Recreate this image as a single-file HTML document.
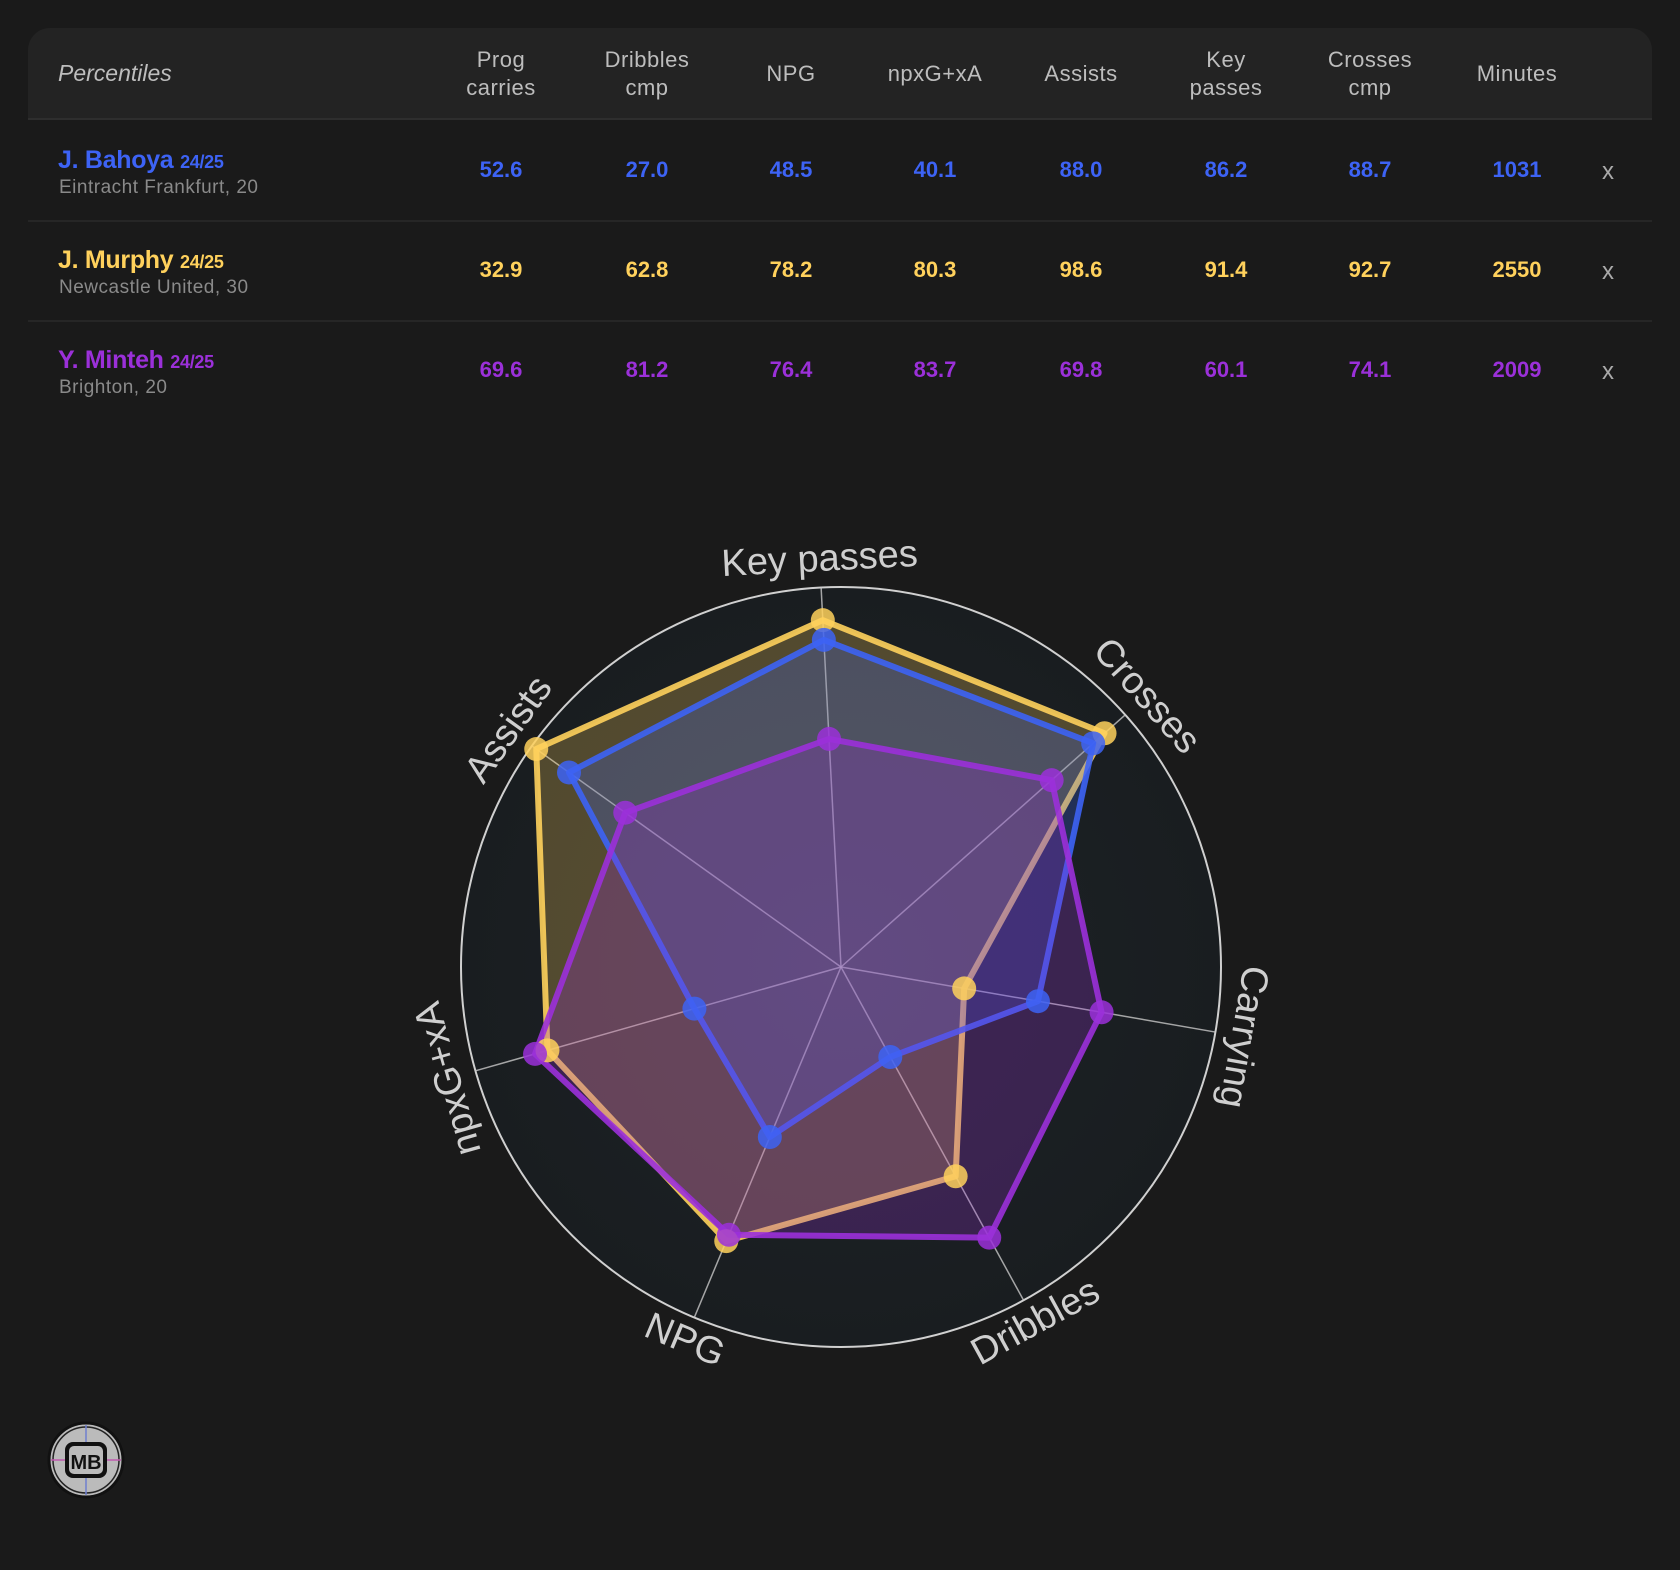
<!DOCTYPE html>
<html><head><meta charset="utf-8">
<style>
body{margin:0;background:#1a1a1a;width:1680px;height:1570px;overflow:hidden;font-family:"Liberation Sans",sans-serif;position:relative}
.card{position:absolute;left:28px;top:28px;width:1624px;height:390px}
.hdr{position:absolute;left:0;top:0;width:1624px;height:90px;background:#232323;border-radius:22px 22px 0 0;border-bottom:2px solid #2e2e2e}
.row{position:absolute;left:0;width:1624px;height:100px;border-bottom:2px solid #262626}
.row.last{border-bottom:none}
.row .in{position:absolute;left:-7px;top:0;width:1631px;height:100px}
.c{position:absolute;transform:translateX(-50%);text-align:center;white-space:nowrap}
.h{color:#bdbdbd;font-size:22px;line-height:28px;letter-spacing:.5px}
.v{font-size:22px;font-weight:bold;top:37px}
.nm{position:absolute;left:37px;top:26px;font-size:25px;font-weight:bold;white-space:nowrap;letter-spacing:-.3px}
.nm small{font-size:18px}
.sub{position:absolute;left:38px;top:57px;font-size:19px;color:#8a8a8a;letter-spacing:.5px}
.x{position:absolute;left:1581px;top:38px;color:#aaa;font-size:24px}
</style></head><body>
<div class="card">
 <div class="hdr">
  <div style="position:absolute;left:30px;top:32px;font-style:italic;color:#bdbdbd;font-size:23px">Percentiles</div>
  <div class="c h" style="left:473px;top:18px">Prog<br>carries</div>
  <div class="c h" style="left:619px;top:18px">Dribbles<br>cmp</div>
  <div class="c h" style="left:763px;top:32px">NPG</div>
  <div class="c h" style="left:907px;top:32px">npxG+xA</div>
  <div class="c h" style="left:1053px;top:32px">Assists</div>
  <div class="c h" style="left:1198px;top:18px">Key<br>passes</div>
  <div class="c h" style="left:1342px;top:18px">Crosses<br>cmp</div>
  <div class="c h" style="left:1489px;top:32px">Minutes</div>
 </div>
 <div id="rows"></div>
</div>
<svg id="radar" width="1680" height="1570" style="position:absolute;left:0;top:0">
 <defs><radialGradient id="bg"><stop offset="0" stop-color="#1e2428"/><stop offset="1" stop-color="#191d20"/></radialGradient></defs>
</svg>
<svg width="90" height="90" style="position:absolute;left:41px;top:1415px">
 <circle cx="45" cy="45" r="37" fill="#bbb" stroke="#111" stroke-width="3"/>
 <circle cx="45" cy="45" r="33" fill="none" stroke="#222" stroke-width="1.5"/>
 <line x1="45" y1="10" x2="45" y2="80" stroke="#6f7fcf" stroke-width="1.5"/>
 <line x1="10" y1="45" x2="80" y2="45" stroke="#c05ab0" stroke-width="1.5"/>
 <rect x="24" y="27" width="42" height="36" rx="8" fill="#111"/>
 <rect x="28" y="31" width="34" height="28" rx="5" fill="#bbb"/>
 <text x="45" y="54" text-anchor="middle" font-family="Liberation Sans" font-weight="bold" font-size="20" fill="#111">MB</text>
</svg>
<script>
const players=["J. Bahoya","J. Murphy","Y. Minteh"];
const clubs=["Eintracht Frankfurt, 20","Newcastle United, 30","Brighton, 20"];
const colors=["#3d63f5","#ffd15c","#9b30d9"];
const minutes=[1031,2550,2009];
const progCarries=[52.6,32.9,69.6];
const dribbles=[27.0,62.8,81.2];
const npg=[48.5,78.2,76.4];
const npxgxa=[40.1,80.3,83.7];
const assists=[88.0,98.6,69.8];
const keyPasses=[86.2,91.4,60.1];
const crosses=[88.7,92.7,74.1];
const axisLabels=["Key passes","Crosses","Carrying","Dribbles","NPG","npxG+xA","Assists"];
const axisSeries=[keyPasses,crosses,progCarries,dribbles,npg,npxgxa,assists];
const tableSeries=[progCarries,dribbles,npg,npxgxa,assists,keyPasses,crosses];

const colX=[480,626,770,914,1060,1205,1349];
const rowsEl=document.getElementById('rows');
players.forEach((p,i)=>{
  const r=document.createElement('div');r.className='row'+(i==players.length-1?' last':'');r.style.top=(92+i*100)+'px';
  
  
  let h=`<div class="in"><div class="nm" style="color:${colors[i]}">${p} <small>24/25</small></div><div class="sub">${clubs[i]}</div>`;
  tableSeries.forEach((s,j)=>{h+=`<div class="c v" style="left:${colX[j]}px;color:${colors[i]}">${s[i].toFixed(1)}</div>`});
  h+=`<div class="c v" style="left:1496px;color:${colors[i]}">${minutes[i]}</div><div class="x">x</div></div>`;
  r.innerHTML=h;rowsEl.appendChild(r);
});

const NS='http://www.w3.org/2000/svg';
const svg=document.getElementById('radar');
const cx=841,cy=967,R=380,start=-3;
const ang=k=>(start+k*360/axisLabels.length);
const pt=(k,v)=>{const a=ang(k)*Math.PI/180;return [cx+Math.sin(a)*R*v/100,cy-Math.cos(a)*R*v/100]};
function mk(t,attrs){const e=document.createElementNS(NS,t);for(const k in attrs)e.setAttribute(k,attrs[k]);svg.appendChild(e);return e}
const bgc=mk('circle',{cx,cy,r:R,fill:'url(#bg)',stroke:'#d0d0d0','stroke-width':2});


axisLabels.forEach((l,k)=>{
  const [x,y]=pt(k,100);
  const ln=mk('line',{x1:cx,y1:cy,x2:x,y2:y,stroke:'#c8c8c8','stroke-width':1.5,'stroke-opacity':0.8});
  
  
});
const order=[1,0,2];
order.forEach(i=>{
  const pts=axisSeries.map((s,k)=>pt(k,s[i]));
  const pg=mk('polygon',{points:pts.map(p=>p.join(',')).join(' '),fill:colors[i],'fill-opacity':0.25,stroke:colors[i],'stroke-width':6,'stroke-opacity':0.9,'stroke-linejoin':'round'});
  
  
});
order.forEach(i=>{
  axisSeries.forEach((s,k)=>{
    const [x,y]=pt(k,s[i]);
    const c=mk('circle',{cx:x,cy:y,r:12,fill:colors[i],'fill-opacity':0.85});
    
    
  });
});
axisLabels.forEach((l,k)=>{
  const a=ang(k);const [x,y]=pt(k,107);
  let rot=a;if(a>120&&a<240)rot=a-180;
  const t=mk('text',{x,y,fill:'#cfcfcf','font-size':38,'text-anchor':'middle','dominant-baseline':'middle','font-family':'Liberation Sans',transform:`rotate(${rot} ${x} ${y})`});
  t.textContent=l;
  
  
});
</script>
</body></html>
